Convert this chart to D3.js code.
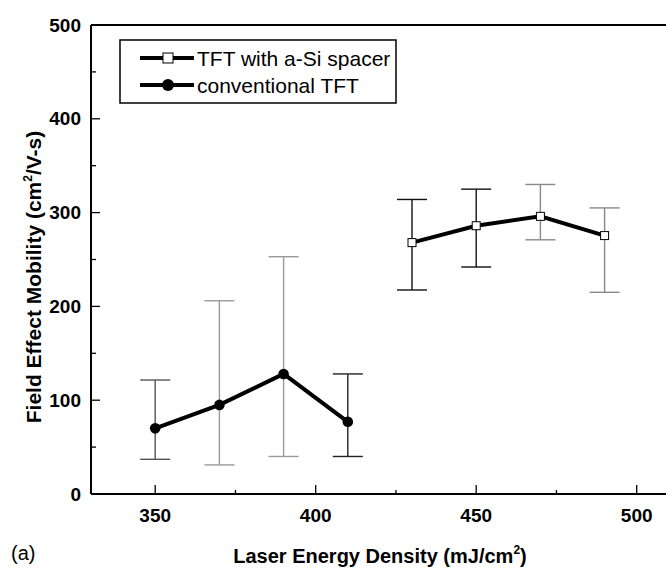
<!DOCTYPE html>
<html><head><meta charset="utf-8">
<script src="https://cdn.jsdelivr.net/npm/d3@7/dist/d3.min.js"></script>
<style>body{margin:0;background:#fff}svg{display:block}</style>
</head><body><svg id="c" width="666" height="569"></svg>
<script>
// Data
const spacerX = [430, 450, 470, 490];
const spacerY = [268, 286, 296, 275.5];
const spacerHi = [314, 325, 330, 305];
const spacerLo = [217.5, 242, 271, 215];
const convX = [350, 370, 390, 410];
const convY = [70, 95, 128, 77];
const convHi = [121.5, 206, 253, 128];
const convLo = [37, 31, 40, 40];
const xTicks = [350, 400, 450, 500];
const yTicks = [0, 100, 200, 300, 400, 500];
const seriesNames = ["TFT with a-Si spacer", "conventional TFT"];
// error-bar shades as seen in the reference
const spacerErrColor = ["#111", "#111", "#888", "#888"];
const convErrColor = ["#555", "#999", "#999", "#222"];

const svg = d3.select("#c");
const x = d3.scaleLinear().domain([330, 510]).range([91, 668.8]);
const y = d3.scaleLinear().domain([0, 500]).range([494, 25]);
const font = "Liberation Sans, Arial, Helvetica, sans-serif";

// Error bars
function errBars(xs, lo, hi, cols) {
  const g = svg.append("g");
  xs.forEach((v, i) => {
    const c = cols[i];
    g.append("line").attr("x1", x(v)).attr("x2", x(v)).attr("y1", y(lo[i])).attr("y2", y(hi[i]))
      .attr("stroke", c).attr("stroke-width", 1.4);
    [lo[i], hi[i]].forEach(e => g.append("line").attr("x1", x(v) - 15).attr("x2", x(v) + 15)
      .attr("y1", y(e)).attr("y2", y(e)).attr("stroke", c).attr("stroke-width", 1.4));
  });
}
errBars(convX, convLo, convHi, convErrColor);
errBars(spacerX, spacerLo, spacerHi, spacerErrColor);

// Lines
const line = d3.line().x(d => x(d[0])).y(d => y(d[1]));
svg.append("path").attr("d", line(convX.map((v, i) => [v, convY[i]])))
  .attr("fill", "none").attr("stroke", "#000").attr("stroke-width", 4);
svg.append("path").attr("d", line(spacerX.map((v, i) => [v, spacerY[i]])))
  .attr("fill", "none").attr("stroke", "#000").attr("stroke-width", 4);

// Markers
svg.append("g").selectAll("circle").data(convX).join("circle")
  .attr("cx", d => x(d)).attr("cy", (d, i) => y(convY[i])).attr("r", 5.3).attr("fill", "#000");
svg.append("g").selectAll("rect").data(spacerX).join("rect")
  .attr("x", d => x(d) - 4).attr("y", (d, i) => y(spacerY[i]) - 4)
  .attr("width", 8).attr("height", 8).attr("fill", "#fff").attr("stroke", "#000").attr("stroke-width", 1);

// Axes
const xAxis = svg.append("g").attr("transform", `translate(0,${y(0)})`);
xAxis.append("line").attr("x1", x(330)).attr("x2", 666).attr("stroke", "#000").attr("stroke-width", 2);
d3.range(350, 511, 25).forEach(t => {
  const major = xTicks.includes(t);
  xAxis.append("line").attr("x1", x(t)).attr("x2", x(t)).attr("y1", 0).attr("y2", major ? -9 : -4)
    .attr("stroke", "#000").attr("stroke-width", 1.3);
});
xAxis.selectAll("text").data(xTicks).join("text").attr("x", d => x(d)).attr("y", 28)
  .attr("text-anchor", "middle").attr("font-family", font).attr("font-weight", "bold")
  .attr("font-size", 19).text(d => d);

const yAxis = svg.append("g").attr("transform", `translate(${x(330)},0)`);
yAxis.append("line").attr("y1", y(0)).attr("y2", y(500)).attr("stroke", "#000").attr("stroke-width", 2);
d3.range(0, 501, 50).forEach(t => {
  const major = yTicks.includes(t);
  yAxis.append("line").attr("x1", 0).attr("x2", major ? 9 : 5).attr("y1", y(t)).attr("y2", y(t))
    .attr("stroke", "#000").attr("stroke-width", 1.3);
});
yAxis.selectAll("text").data(yTicks).join("text").attr("x", -10).attr("y", d => y(d))
  .attr("dy", "0.35em").attr("text-anchor", "end").attr("font-family", font).attr("font-weight", "bold")
  .attr("font-size", 19).text(d => d);
// top frame
svg.append("line").attr("x1", x(330)).attr("x2", 666).attr("y1", y(500)).attr("y2", y(500))
  .attr("stroke", "#000").attr("stroke-width", 2);

// Axis titles
const xt = svg.append("text").attr("x", 380).attr("y", 563).attr("text-anchor", "middle")
  .attr("font-family", font).attr("font-weight", "bold").attr("font-size", 20);
xt.append("tspan").text("Laser Energy Density (mJ/cm");
xt.append("tspan").attr("dy", -9).attr("font-size", 12).text("2");
xt.append("tspan").attr("dy", 9).text(")");

const yt = svg.append("text").attr("transform", "translate(41,277) rotate(-90)").attr("text-anchor", "middle")
  .attr("font-family", font).attr("font-weight", "bold").attr("font-size", 21);
yt.append("tspan").text("Field Effect Mobility (cm");
yt.append("tspan").attr("dy", -9).attr("font-size", 12).text("2");
yt.append("tspan").attr("dy", 9).text("/V-s)");

svg.append("text").attr("x", 11).attr("y", 560).attr("font-family", font).attr("font-size", 20).text("(a)");

// Legend
const lg = svg.append("g");
lg.append("rect").attr("x", 120).attr("y", 40).attr("width", 276).attr("height", 63)
  .attr("fill", "#fff").attr("stroke", "#000").attr("stroke-width", 1.5);
[58, 85].forEach((ly, i) => {
  lg.append("line").attr("x1", 140).attr("x2", 194).attr("y1", ly).attr("y2", ly)
    .attr("stroke", "#000").attr("stroke-width", 4);
  if (i === 0) lg.append("rect").attr("x", 163).attr("y", ly - 5).attr("width", 10).attr("height", 10)
    .attr("fill", "#fff").attr("stroke", "#000").attr("stroke-width", 1);
  else lg.append("circle").attr("cx", 168).attr("cy", ly).attr("r", 6).attr("fill", "#000");
  lg.append("text").attr("x", 197).attr("y", ly).attr("dy", "0.36em").attr("font-family", font)
    .attr("font-size", 21).text(seriesNames[i]);
});
</script></body></html>
